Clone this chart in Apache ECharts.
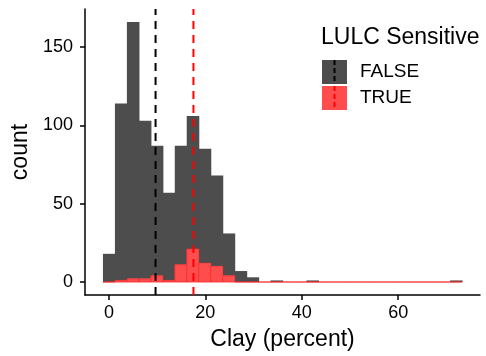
<!DOCTYPE html>
<html>
<head>
<meta charset="utf-8">
<script src="https://cdn.jsdelivr.net/npm/echarts@6/dist/echarts.min.js"></script>
<style>
html,body{margin:0;padding:0;background:#fff;}
#chart{width:486px;height:356px;}
</style>
</head>
<body>
<div id="chart"></div>
<script>
// ---- data ----
const seriesNames = ['FALSE', 'TRUE'];
const binStart = -1.2414;     // lower edge of first bin (Clay %)
const binWidth = 2.4828;      // histogram bin width (Clay %)
const countFalse = [18,113,164,101,83,56,76,85,73,58,27,7,3,0,1,0,0,1,0,0,0,0,0,0,0,0,0,0,0,1];
const countTrue  = [0,1,2,2,4,1,11,21,12,10,4,0,0,0,0,0,0,0,0,0,0,0,0,0,0,0,0,0,0,0];
const groupMeans = [9.67, 17.53];          // dashed reference lines (FALSE, TRUE)
const xTicks = [0, 20, 40, 60];
const yTicks = [0, 50, 100, 150];
const xRange = [-4.965, 76.966];
const yRange = [-8.3, 174.3];

const fontFam = "'Liberation Sans', Arial, Helvetica, sans-serif";
const greyFill = '#4D4D4D';
const redFill = '#FF4D4D';
const redLine = '#F52A2A';

// build histogram data: [lowerEdge, upperEdge, base, top]
const dataTrue = countTrue.map((c, i) => [binStart + i * binWidth, binStart + (i + 1) * binWidth, 0, c]);
const dataFalse = countFalse.map((c, i) => [binStart + i * binWidth, binStart + (i + 1) * binWidth, countTrue[i], countTrue[i] + c]);

function barRender(fill, stroke, lw, skipEmpty, overlap) {
  return function (params, api) {
    if (skipEmpty && api.value(3) === api.value(2)) return null;
    const p0 = api.coord([api.value(0), api.value(2)]);
    const p1 = api.coord([api.value(1), api.value(3)]);
    return {
      type: 'rect',
      shape: { x: p0[0], y: p1[1], width: p1[0] - p0[0] + overlap, height: p0[1] - p1[1] },
      style: { fill: fill, stroke: stroke, lineWidth: lw }
    };
  };
}

const chart = echarts.init(document.getElementById('chart'), null, { renderer: 'canvas' });
chart.setOption({
  animation: false,
  backgroundColor: '#ffffff',
  textStyle: { fontFamily: fontFam },
  grid: { left: 85, right: 6, top: 9, bottom: 60, containLabel: false },
  title: {
    text: 'LULC Sensitive',
    left: 321, top: 26, padding: 0,
    textStyle: { fontFamily: fontFam, fontSize: 23, fontWeight: 'normal', color: '#000' }
  },
  legend: {
    data: seriesNames,
    orient: 'vertical',
    left: 322, top: 60,
    padding: 0,
    itemWidth: 25, itemHeight: 24, itemGap: 2,
    icon: 'rect',
    itemStyle: { borderWidth: 0 },
    textStyle: { fontFamily: fontFam, fontSize: 19, color: '#000', padding: [0, 0, 0, 8] },
    selectedMode: false
  },
  xAxis: {
    type: 'value',
    min: xRange[0], max: xRange[1],
    name: 'Clay (percent)',
    nameLocation: 'middle',
    nameGap: 33,
    nameTextStyle: { fontFamily: fontFam, fontSize: 23, color: '#000' },
    axisLine: { show: true, onZero: false, lineStyle: { color: '#000', width: 1.5 } },
    axisTick: { show: true, length: 5, lineStyle: { color: '#000', width: 1.5 }, customValues: xTicks },
    axisLabel: { fontFamily: fontFam, fontSize: 18, color: '#000', margin: 9, customValues: xTicks },
    splitLine: { show: false }
  },
  yAxis: {
    type: 'value',
    min: yRange[0], max: yRange[1],
    name: 'count',
    nameLocation: 'middle',
    nameGap: 50,
    nameRotate: 90,
    nameTextStyle: { fontFamily: fontFam, fontSize: 23, color: '#000' },
    axisLine: { show: true, onZero: false, lineStyle: { color: '#000', width: 1.5 } },
    axisTick: { show: true, length: 5, lineStyle: { color: '#000', width: 1.5 }, customValues: yTicks },
    axisLabel: { fontFamily: fontFam, fontSize: 18, color: '#000', margin: 12, customValues: yTicks },
    splitLine: { show: false }
  },
  graphic: [
    { type: 'line', z: 100, shape: { x1: 334.5, y1: 60, x2: 334.5, y2: 84 },
      style: { stroke: '#000', lineWidth: 2, lineDash: [5, 3] } },
    { type: 'line', z: 100, shape: { x1: 334.5, y1: 86, x2: 334.5, y2: 110 },
      style: { stroke: '#FF0000', lineWidth: 2, lineDash: [5, 3] } }
  ],
  series: [
    {
      name: 'FALSE', type: 'custom', z: 2,
      itemStyle: { color: greyFill },
      renderItem: barRender(greyFill, null, 0, true, 0.6),
      encode: { x: [0, 1], y: [2, 3] },
      data: dataFalse
    },
    {
      name: 'TRUE', type: 'custom', z: 3,
      itemStyle: { color: redFill },
      renderItem: barRender(redFill, redLine, 0.8, false, 0),
      encode: { x: [0, 1], y: [2, 3] },
      data: dataTrue
    },
    {
      name: 'means', type: 'custom', z: 5,
      renderItem: function (params, api) {
        const x = api.value(0);
        const a = api.coord([x, yRange[0]]);
        const b = api.coord([x, yRange[1]]);
        return {
          type: 'line',
          shape: { x1: a[0], y1: a[1], x2: b[0], y2: b[1] },
          style: { stroke: params.dataIndex === 0 ? '#000' : '#FF0000', lineWidth: 2, lineDash: [8, 6] }
        };
      },
      encode: { x: 0 },
      data: groupMeans.map(v => [v])
    }
  ]
});
</script>
</body>
</html>
